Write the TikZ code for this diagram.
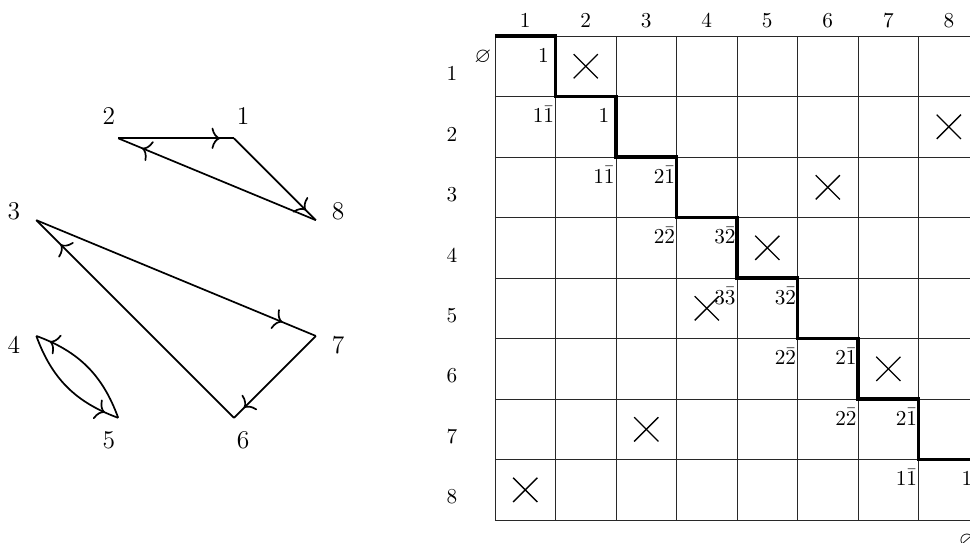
\documentclass[tikz,border=0pt]{standalone}
\usepackage{amssymb}
\usetikzlibrary{arrows.meta,calc,decorations.markings}
\definecolor{inkclr}{RGB}{0,0,0}
\definecolor{gridclr}{RGB}{40,40,40}
\tikzset{
  vlbl/.style={font=\large,inner sep=0pt,text=inkclr},
  hdr/.style={font=\normalsize,inner sep=0pt,text=inkclr},
  clbl/.style={font=\normalsize,inner sep=0pt,anchor=base,text=inkclr},
  edg/.style={thick,draw=inkclr,postaction={decorate},
    decoration={markings,mark=at position 0.88 with
      {\arrow{Computer Modern Rightarrow[length=4pt,width=10pt]}}}},
  grdln/.style={line width=0.4pt,draw=gridclr},
  stair/.style={line width=1.6pt,draw=inkclr,line join=miter},
  xmk/.style={line width=0.6pt,draw=inkclr},
}

\begin{document}
\begin{tikzpicture}
  \useasboundingbox (-8.18,0.595) rectangle (7.85,-8.364);
  \clip (-8.18,0.595) rectangle (7.85,-8.364);

  % the permutation as a graph
  \coordinate (ctr) at (-5.27,-4);
  \foreach \k in {1,...,8}{
    \coordinate (v\k) at ($(ctr)+({67.5+45*(\k-1)}:2.5)$);
    \node[vlbl] (l\k) at ($(ctr)+({67.5+45*(\k-1)}:2.9)$) {\k};
  }
  \foreach \a/\b in {2/1,1/8,8/2,3/7,7/6,6/3}
    \draw[edg] (v\a) -- (v\b);
  \draw[edg] (v4) to[bend right=25] (v5);
  \draw[edg] (v5) to[bend right=25] (v4);

  % the board
  \draw[grdln] (0,0) grid (8,-8);
  \foreach \i in {1,...,8}{
    \node[hdr] (c\i) at (\i-0.5,0.26) {\i};
    \node[hdr] (r\i) at (-0.71,-\i+0.38) {\i};
  }
  \foreach \i/\j in {2/1,8/2,6/3,5/4,4/5,7/6,3/7,1/8}{
    \draw[xmk] (\i-0.7,-\j+0.7) -- (\i-0.3,-\j+0.3);
    \draw[xmk] (\i-0.7,-\j+0.3) -- (\i-0.3,-\j+0.7);
  }

  % staircase and its labels
  \foreach \n/\x/\y/\t in {0/0/0/$\varnothing$, 1/1/0/$1$, 2/1/-1/$1\bar{1}$,
    3/2/-1/$1$, 4/2/-2/$1\bar{1}$, 5/3/-2/$2\bar{1}$, 6/3/-3/$2\bar{2}$,
    7/4/-3/$3\bar{2}$, 8/4/-4/$3\bar{3}$, 9/5/-4/$3\bar{2}$,
    10/5/-5/$2\bar{2}$, 11/6/-5/$2\bar{1}$, 12/6/-6/$2\bar{2}$,
    13/7/-6/$2\bar{1}$, 14/7/-7/$1\bar{1}$, 15/8/-7/$1$, 16/8/-8/$\varnothing$}{
    \coordinate (s\n) at (\x,\y);
    \node[clbl] (t\n) at ($(s\n)+(-0.2,-0.436)$) {\t};
  }
  \draw[stair] (s0) \foreach \n in {1,...,15}{ -- (s\n)};

\end{tikzpicture}
\end{document}
